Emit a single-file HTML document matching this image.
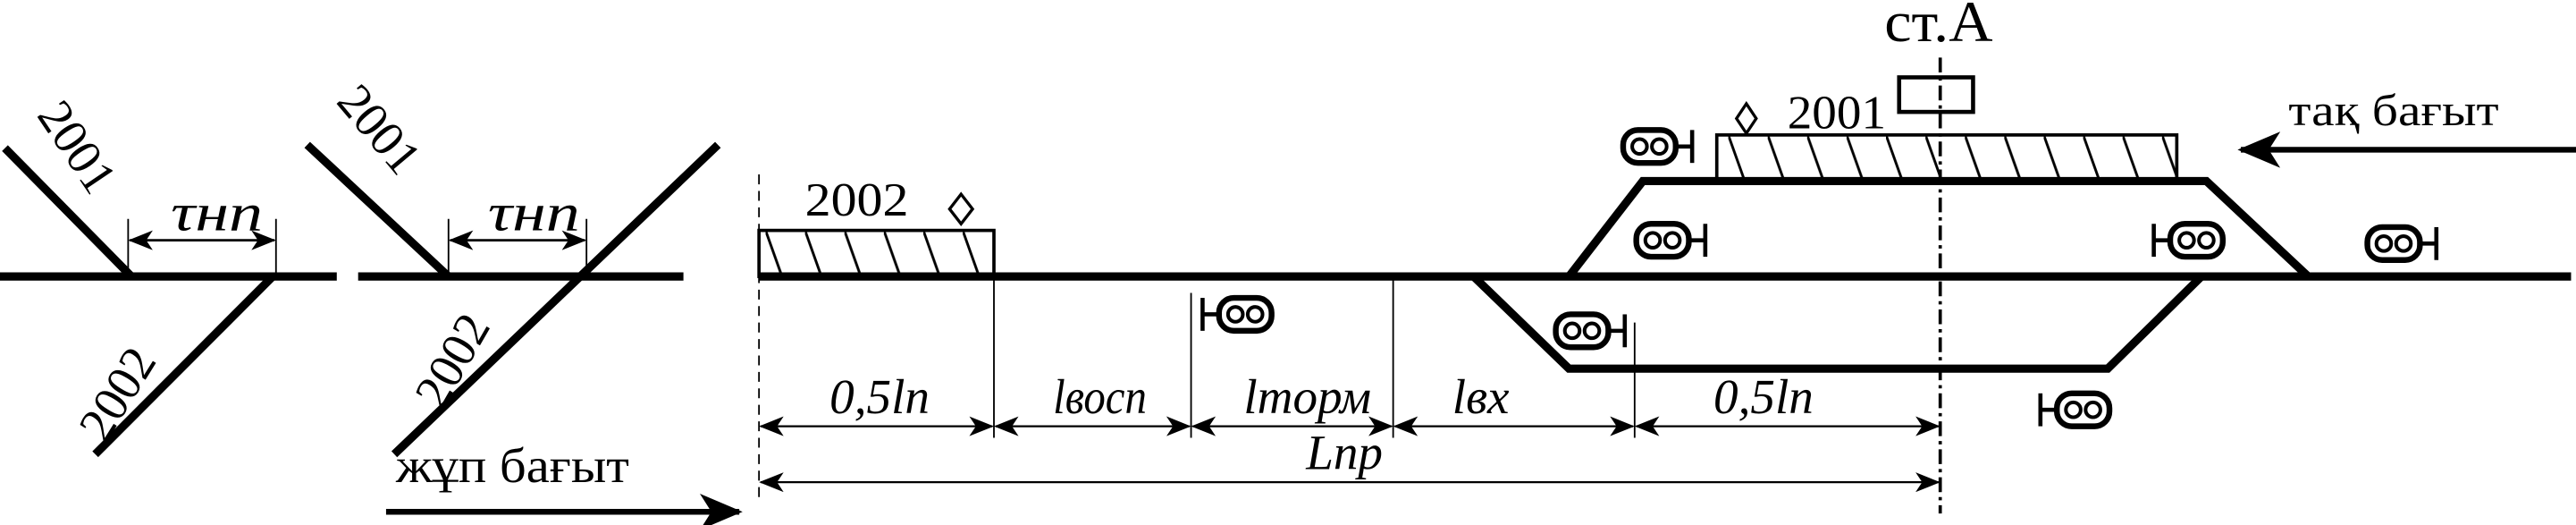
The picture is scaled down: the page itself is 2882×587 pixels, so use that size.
<!DOCTYPE html>
<html><head><meta charset="utf-8"><style>
html,body{margin:0;padding:0;background:#fff;}
svg{display:block;}
text{font-family:"Liberation Serif",serif;fill:#000;}
.it{font-style:italic;}
</style></head><body>
<svg width="2882" height="587" viewBox="0 0 1568 319" preserveAspectRatio="none" xmlns="http://www.w3.org/2000/svg">
<defs>
<marker id="ah" markerWidth="15" markerHeight="12" refX="14" refY="6" orient="auto-start-reverse" markerUnits="userSpaceOnUse">
<path d="M0,0 L15,6 L0,12 L4,6 Z" fill="#000"/></marker>
<marker id="big" markerWidth="26" markerHeight="22" refX="24" refY="11" orient="auto" markerUnits="userSpaceOnUse">
<path d="M0,0 L26,11 L0,22 L7,11 Z" fill="#000"/></marker>
<pattern id="hatch" patternUnits="userSpaceOnUse" width="24" height="28" patternTransform="translate(466,140)">
<line x1="0" y1="0" x2="10" y2="28" stroke="#000" stroke-width="1.6"/></pattern>
<pattern id="hatch2" patternUnits="userSpaceOnUse" width="24" height="28" patternTransform="translate(1052,82)">
<line x1="0" y1="0" x2="10" y2="28" stroke="#000" stroke-width="1.6"/></pattern>
<g id="sigR">
<rect x="0" y="-10" width="32" height="20" rx="9" fill="#fff" stroke="#000" stroke-width="3.5"/>
<circle cx="10" cy="0" r="4.5" fill="none" stroke="#000" stroke-width="2.2"/>
<circle cx="22" cy="0" r="4.5" fill="none" stroke="#000" stroke-width="2.2"/>
<line x1="32" y1="0" x2="42" y2="0" stroke="#000" stroke-width="2.5"/>
<line x1="42" y1="-10" x2="42" y2="10" stroke="#000" stroke-width="2.5"/>
</g>
<g id="sigL"><use href="#sigR" transform="scale(-1,1)"/></g>
</defs>

<g stroke="#000" fill="none">
<line x1="0" y1="168" x2="205" y2="168" stroke-width="5"/>
<line x1="3" y1="90" x2="80" y2="168" stroke-width="5"/>
<line x1="166" y1="168" x2="58" y2="276" stroke-width="5"/>
<line x1="78" y1="133" x2="78" y2="168" stroke-width="1"/>
<line x1="168" y1="133" x2="168" y2="168" stroke-width="1"/>
<line x1="79" y1="146" x2="167" y2="146" stroke-width="1.5" marker-start="url(#ah)" marker-end="url(#ah)"/>
<line x1="218" y1="168" x2="416" y2="168" stroke-width="5"/>
<line x1="187" y1="88" x2="273" y2="168" stroke-width="5"/>
<line x1="437" y1="88" x2="240" y2="276" stroke-width="5"/>
<line x1="273" y1="133" x2="273" y2="168" stroke-width="1"/>
<line x1="357" y1="133" x2="357" y2="168" stroke-width="1"/>
<line x1="274" y1="146" x2="356" y2="146" stroke-width="1.5" marker-start="url(#ah)" marker-end="url(#ah)"/>
<line x1="235" y1="311" x2="450" y2="311" stroke-width="3.5" marker-end="url(#big)"/>

<line x1="462" y1="168" x2="1565" y2="168" stroke-width="5"/>
<line x1="462" y1="106" x2="462" y2="302" stroke-width="1" stroke-dasharray="6,4"/>
<polyline points="955,168 1000,110 1343,110 1405,168" stroke-width="5"/>
<polyline points="897,168 955,224 1283,224 1340,168" stroke-width="5"/>
<rect x="462" y="140" width="143" height="28" fill="url(#hatch)" stroke-width="2"/>
<rect x="1045" y="82" width="280" height="28" fill="url(#hatch2)" stroke-width="2"/>
<path d="M585,118 L592,127 L585,136 L578,127 Z" stroke-width="1.8"/>
<path d="M1063,63 L1069,72 L1063,81 L1057,72 Z" stroke-width="1.8"/>
<rect x="1156" y="47" width="45" height="21" stroke-width="2.5"/>
<line x1="1181" y1="35" x2="1181" y2="312" stroke-width="2" stroke-dasharray="9,3,2,3"/>
<line x1="605" y1="168" x2="605" y2="266" stroke-width="1"/>
<line x1="725" y1="178" x2="725" y2="266" stroke-width="1"/>
<line x1="848" y1="168" x2="848" y2="266" stroke-width="1"/>
<line x1="995" y1="196" x2="995" y2="266" stroke-width="1"/>
<line x1="463" y1="259" x2="604" y2="259" stroke-width="1.2" marker-start="url(#ah)" marker-end="url(#ah)"/>
<line x1="606" y1="259" x2="724" y2="259" stroke-width="1.2" marker-start="url(#ah)" marker-end="url(#ah)"/>
<line x1="726" y1="259" x2="847" y2="259" stroke-width="1.2" marker-start="url(#ah)" marker-end="url(#ah)"/>
<line x1="849" y1="259" x2="994" y2="259" stroke-width="1.2" marker-start="url(#ah)" marker-end="url(#ah)"/>
<line x1="996" y1="259" x2="1180" y2="259" stroke-width="1.2" marker-start="url(#ah)" marker-end="url(#ah)"/>
<line x1="463" y1="293" x2="1180" y2="293" stroke-width="1.2" marker-start="url(#ah)" marker-end="url(#ah)"/>
<line x1="1568" y1="91" x2="1364" y2="91" stroke-width="3.5" marker-end="url(#big)"/>
</g>

<use href="#sigR" x="988" y="89"/>
<use href="#sigR" x="996" y="146"/>
<use href="#sigL" transform="translate(1353,146)"/>
<use href="#sigR" x="1441" y="148"/>
<use href="#sigR" x="947" y="201"/>
<use href="#sigL" transform="translate(774,191)"/>
<use href="#sigL" transform="translate(1284,249)"/>

<text class="it" x="104" y="140" font-size="32" textLength="56" lengthAdjust="spacingAndGlyphs">τнп</text>
<text class="it" x="297" y="140" font-size="32" textLength="56" lengthAdjust="spacingAndGlyphs">τнп</text>
<text font-size="30" transform="translate(22,70) rotate(56)">2001</text>
<text font-size="30" transform="translate(204,62) rotate(50)">2001</text>
<text font-size="30" transform="translate(64,270) rotate(-58)">2002</text>
<text font-size="30" transform="translate(269,250) rotate(-60)">2002</text>
<text x="241" y="293" font-size="30" textLength="142" lengthAdjust="spacingAndGlyphs">жұп бағыт</text>
<text x="490" y="131" font-size="29" textLength="63" lengthAdjust="spacingAndGlyphs">2002</text>
<text x="1088" y="78" font-size="29" textLength="60" lengthAdjust="spacingAndGlyphs">2001</text>
<text x="1147" y="25" font-size="35" textLength="66" lengthAdjust="spacingAndGlyphs">ст.А</text>
<text x="1393" y="76" font-size="27" textLength="128" lengthAdjust="spacingAndGlyphs">тақ бағыт</text>
<text class="it" x="505" y="251" font-size="30">0,5ln</text>
<text class="it" x="641" y="251" font-size="30" textLength="57" lengthAdjust="spacingAndGlyphs">lвосп</text>
<text class="it" x="757" y="251" font-size="30">lторм</text>
<text class="it" x="884" y="251" font-size="30">lвх</text>
<text class="it" x="1043" y="251" font-size="30">0,5ln</text>
<text class="it" x="795" y="285" font-size="30">Lnp</text>
</svg>
</body></html>
